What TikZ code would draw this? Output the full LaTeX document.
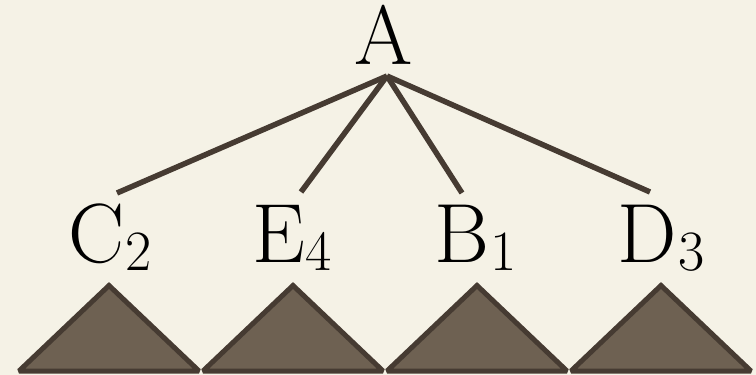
\documentclass[tikz,border=0pt]{standalone}
\font\bigf="[lmroman17-regular.otf]" at 84pt
\font\subf="[lmroman17-regular.otf]" at 57pt
\newcommand{\mysub}[2]{#1\kern1pt\raisebox{-8pt}{\subf #2}}
\begin{document}
\begin{tikzpicture}[x=1pt,y=-1pt,
  lbl/.style={inner sep=0pt, anchor=base, font=\bigf, text=black},
  edge/.style={draw=linec, line width=5.5pt},
  tri/.style={draw=linec, fill=trifill, line width=5pt, line join=miter, miter limit=1.5}]
\definecolor{bg}{HTML}{F5F2E6}
\definecolor{linec}{HTML}{463B32}
\definecolor{trifill}{HTML}{6E6152}
\fill[bg] (0,0) rectangle (756,375);
\useasboundingbox (0,0) rectangle (756,375);
% triangles
\foreach \cx/\nm in {109/t1,293/t2,477/t3,661/t4}{
  \draw[tri] (\cx-90,371) -- (\cx,285.5) -- (\cx+90,371) -- cycle;
}
% labels
\node[lbl] (A) at (384,64) {A};
\node[lbl] (C) at (110,262) {\mysub{C}{2}};
\node[lbl] (E) at (292,262) {\mysub{E}{4}};
\node[lbl] (B) at (476,262) {\mysub{B}{1}};
\node[lbl] (D) at (661,262) {\mysub{D}{3}};
% connector end points
\coordinate (a0) at (387,76);
\coordinate (c0) at (117,193);
\coordinate (e0) at (301,192);
\coordinate (b0) at (462,193);
\coordinate (d0) at (650,192);
\draw[edge] (a0) -- (c0);
\draw[edge] (a0) -- (e0);
\draw[edge] (a0) -- (b0);
\draw[edge] (a0) -- (d0);
\end{tikzpicture}
\end{document}
